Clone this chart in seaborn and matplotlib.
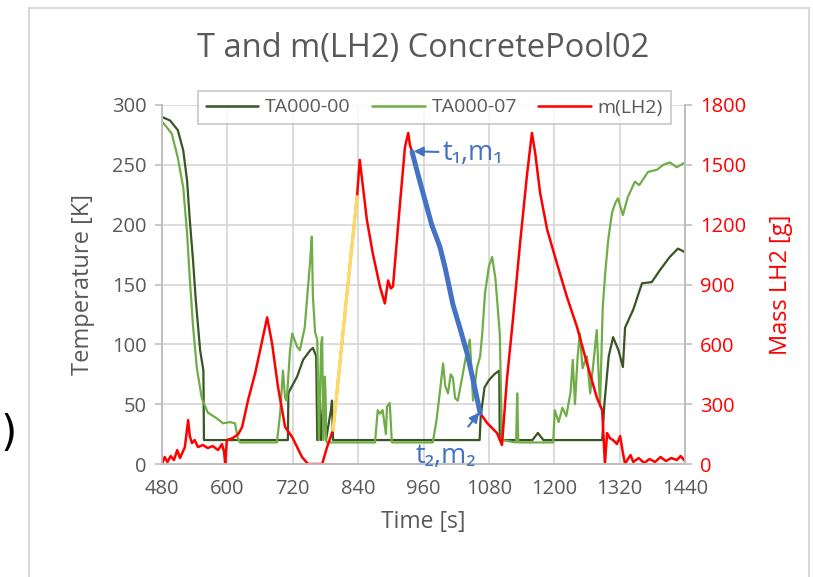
import matplotlib
matplotlib.use("Agg")
import matplotlib.pyplot as plt
import seaborn as sns
import pandas as pd
from matplotlib.lines import Line2D

# ---------------- data ----------------
ta00_t = [480, 495, 509, 519, 526, 531, 537, 542, 550, 556, 557, 600, 650, 700, 711,
          712, 715, 728, 739, 752, 757, 763, 765, 770, 772, 779, 781, 790, 792, 794, 798,
          850, 900, 950, 1000, 1050, 1063, 1065, 1072, 1080, 1090, 1099, 1100, 1120,
          1160, 1170, 1180, 1220, 1260, 1288, 1292, 1300, 1308, 1318, 1326, 1330, 1345,
          1361, 1379, 1394, 1412, 1427, 1440]
ta00_T = [290, 287, 279, 262, 237, 204, 170, 137, 95, 78, 20, 20, 20, 20, 20,
          59, 62, 73, 87, 95, 97, 90, 20, 53, 20, 70, 20, 45, 53, 20, 20,
          20, 20, 20, 20, 20, 20, 40, 64, 70, 75, 78, 20, 20,
          20, 26, 20, 20, 20, 20, 50, 90, 106, 95, 81, 114, 129,
          151, 152, 162, 173, 180, 177]

ta07_t = [480, 486, 498, 509, 519, 526, 531, 537, 544, 553, 564, 581, 592, 605, 614,
          619, 623, 660, 691, 697, 702, 706, 709, 715, 719, 728, 733, 742, 748, 752,
          755, 757, 761, 765, 768, 772, 774, 776, 779, 781, 783, 840, 871, 876, 880,
          885, 891, 893, 898, 902, 940, 977, 984, 990, 996, 1000, 1005, 1010, 1014,
          1018, 1023, 1030, 1038, 1045, 1051, 1058, 1064, 1068, 1073, 1080, 1086, 1092,
          1100, 1104, 1130, 1132, 1134, 1170, 1198, 1201, 1208, 1215, 1222, 1230, 1234,
          1238, 1243, 1247, 1252, 1260, 1266, 1272, 1278, 1284, 1289, 1294, 1299, 1306,
          1312, 1317, 1326, 1335, 1348, 1356, 1372, 1389, 1400, 1412, 1425, 1440]
ta07_T = [286, 283, 276, 256, 231, 193, 155, 115, 80, 55, 43, 38, 34, 35, 34,
          22, 18, 18, 18, 43, 78, 55, 53, 95, 109, 98, 95, 114, 148, 170,
          190, 140, 110, 104, 20, 100, 106, 20, 73, 20, 18, 18, 18, 45, 42,
          45, 25, 48, 51, 18, 18, 18, 37, 60, 84, 65, 59, 75, 72,
          55, 53, 70, 90, 104, 53, 80, 90, 110, 143, 165, 173, 155,
          109, 20, 18, 59, 18, 18, 18, 45, 35, 47, 40, 60, 87,
          50, 90, 109, 80, 90, 59, 85, 112, 48, 131, 162, 187, 210,
          218, 222, 208, 223, 236, 233, 244, 246, 250, 252, 248, 252]

mass_t = [480, 485, 490, 496, 502, 508, 513, 518, 522, 528, 531, 535, 540, 546, 555,
          564, 573, 583, 590, 594, 596, 599, 610, 620, 627, 638, 651, 664, 673, 682,
          693, 706, 719, 737, 748, 774, 783, 794, 816, 838, 843, 856, 867, 880, 889,
          895, 900, 904, 908, 917, 926, 932, 935, 939, 950, 960, 966, 975, 990, 1000,
          1014, 1027, 1040, 1052, 1064, 1077, 1095, 1104, 1113, 1124, 1137, 1150, 1159,
          1165, 1174, 1187, 1205, 1223, 1242, 1260, 1278, 1288, 1293, 1297, 1302, 1308,
          1315, 1321, 1326, 1330, 1334, 1340, 1345, 1355, 1365, 1375, 1385, 1395, 1405,
          1415, 1425, 1432, 1440]
mass_m = [0, 35, 10, 40, 20, 70, 30, 60, 85, 220, 140, 105, 120, 85, 95,
          80, 90, 70, 100, 60, 0, 120, 130, 150, 185, 320, 455, 620, 735, 605,
          385, 185, 135, 35, 0, 0, 85, 170, 760, 1340, 1525, 1225, 1055, 890, 805,
          920, 880, 890, 1020, 1310, 1590, 1660, 1600, 1565, 1450, 1350, 1290, 1200, 1090, 980,
          800, 680, 555, 410, 255, 205, 155, 95, 420, 720, 1100, 1450, 1660,
          1560, 1360, 1175, 1005, 840, 685, 505, 335, 270, 0, 155, 130, 120,
          100, 140, 55, 0, 20, 45, 10, 30, 5, 25, 10, 35, 15,
          30, 20, 40, 15]

yellow_t0, yellow_t1 = 794, 838   # highlighted filling segment
blue_t0, blue_t1 = 939, 1064      # highlighted evaporation segment (t1 -> t2)

xticks = list(range(480, 1441, 120))
yticks_left = list(range(0, 301, 50))
yticks_right = list(range(0, 1801, 300))

# ---------------- style ----------------
sns.set_style("white")
plt.rcParams['font.family'] = ['Open Sans', 'DejaVu Sans']
GRAY = "#595959"
C_DARK = "#375623"
C_LIGHT = "#70AD47"
C_RED = "#FF0000"
C_BLUE = "#4472C4"
C_YEL = "#FFD966"

fig = plt.figure(figsize=(8.13, 5.77), dpi=100)
ax = fig.add_axes([162/813, 1-464/577, (685-162)/813, (464-105)/577])
ax2 = ax.twinx()

df00 = pd.DataFrame({"t": ta00_t, "T": ta00_T})
df07 = pd.DataFrame({"t": ta07_t, "T": ta07_T})
dfm = pd.DataFrame({"t": mass_t, "m": mass_m})

sns.lineplot(data=df00, x="t", y="T", ax=ax, color=C_DARK, lw=1.6, sort=False,
             estimator=None, legend=False)
sns.lineplot(data=df07, x="t", y="T", ax=ax, color=C_LIGHT, lw=1.6, sort=False,
             estimator=None, legend=False)
sns.lineplot(data=dfm, x="t", y="m", ax=ax2, color=C_RED, lw=1.8, sort=False,
             estimator=None, legend=False)
dfy = dfm[(dfm.t >= yellow_t0) & (dfm.t <= yellow_t1)]
dfb = dfm[(dfm.t >= blue_t0) & (dfm.t <= blue_t1)]
sns.lineplot(data=dfy, x="t", y="m", ax=ax2, color=C_YEL, lw=2.4, sort=False,
             estimator=None, legend=False)
sns.lineplot(data=dfb, x="t", y="m", ax=ax2, color=C_BLUE, lw=3.6, sort=False,
             estimator=None, legend=False)

ax.set_xlim(480, 1440)
ax.set_ylim(0, 300)
ax2.set_ylim(0, 1800)
ax.set_xticks(xticks)
ax.set_yticks(yticks_left)
ax2.set_yticks(yticks_right)

ax.grid(True, color="#D9D9D9", lw=1.3)
ax2.grid(False)
ax.set_axisbelow(True)

for a in (ax, ax2):
    for s in a.spines.values():
        s.set_color("#BFBFBF")
        s.set_linewidth(1.3)
    a.spines['top'].set_visible(False)

ax.tick_params(axis='both', direction='out', length=5, width=1.2, color="#BFBFBF",
               labelsize=14.5, labelcolor=GRAY, pad=6)
ax2.tick_params(axis='y', direction='out', length=5, width=1.2, color="#BFBFBF",
                labelsize=14.5, labelcolor=C_RED, pad=6)

ax.set_xlabel("Time [s]", fontsize=16.5, color=GRAY, labelpad=8)
ax.set_ylabel("Temperature [K]", fontsize=17, color=GRAY, labelpad=12)
ax2.set_ylabel("Mass LH2 [g]", fontsize=17, color=C_RED, labelpad=16)

fig.text(423/813, 1-48/577, "T and m(LH2) ConcretePool02", fontsize=23.5, color=GRAY,
         ha='center', va='center')

handles = [Line2D([], [], color=C_DARK, lw=1.8),
           Line2D([], [], color=C_LIGHT, lw=1.8),
           Line2D([], [], color=C_RED, lw=1.8)]
leg = ax2.legend(handles, ["TA000-00", "TA000-07", "m(LH2)"], ncol=3,
                 loc='center', bbox_to_anchor=((434.5-162)/523, (464-107.5)/359),
                 frameon=True, fancybox=False, fontsize=14, handlelength=2.7,
                 columnspacing=1.1, handletextpad=0.35, borderpad=0.4,
                 borderaxespad=0)
leg.get_frame().set_edgecolor("#BFBFBF")
leg.get_frame().set_linewidth(1.3)
for txt in leg.get_texts():
    txt.set_color(GRAY)

# annotations
ax2.annotate("t₁,m₁", xy=(942, 1568), xytext=(996, 1560), fontsize=19.5, color=C_BLUE,
             ha='left', va='center', family=['Open Sans', 'DejaVu Sans'],
             arrowprops=dict(arrowstyle='-|>', color=C_BLUE, lw=1.5, mutation_scale=14,
                             shrinkA=1, shrinkB=0))
ax2.annotate("t₂,m₂", xy=(1062, 258), xytext=(1001, 40), fontsize=19.5, color=C_BLUE,
             ha='center', va='center', family=['Open Sans', 'DejaVu Sans'],
             arrowprops=dict(arrowstyle='-|>', color=C_BLUE, lw=1.5, mutation_scale=14,
                             shrinkA=11, shrinkB=0))

# outer frame of screenshot and stray parenthesis
fc = "#D9D9D9"
fig.add_artist(Line2D([28.5/813, 28.5/813], [0, 1-8/577], color=fc, lw=1.5))
fig.add_artist(Line2D([28.5/813, 809/813], [1-8/577, 1-8/577], color=fc, lw=1.5))
fig.add_artist(Line2D([809/813, 809/813], [0, 1-8/577], color=fc, lw=1.5))
fig.text(0.5/813, 1-434/577, ")", fontsize=30, color="black", ha='left', va='center',
         family='DejaVu Sans')

fig.savefig("out.png", dpi=100)
